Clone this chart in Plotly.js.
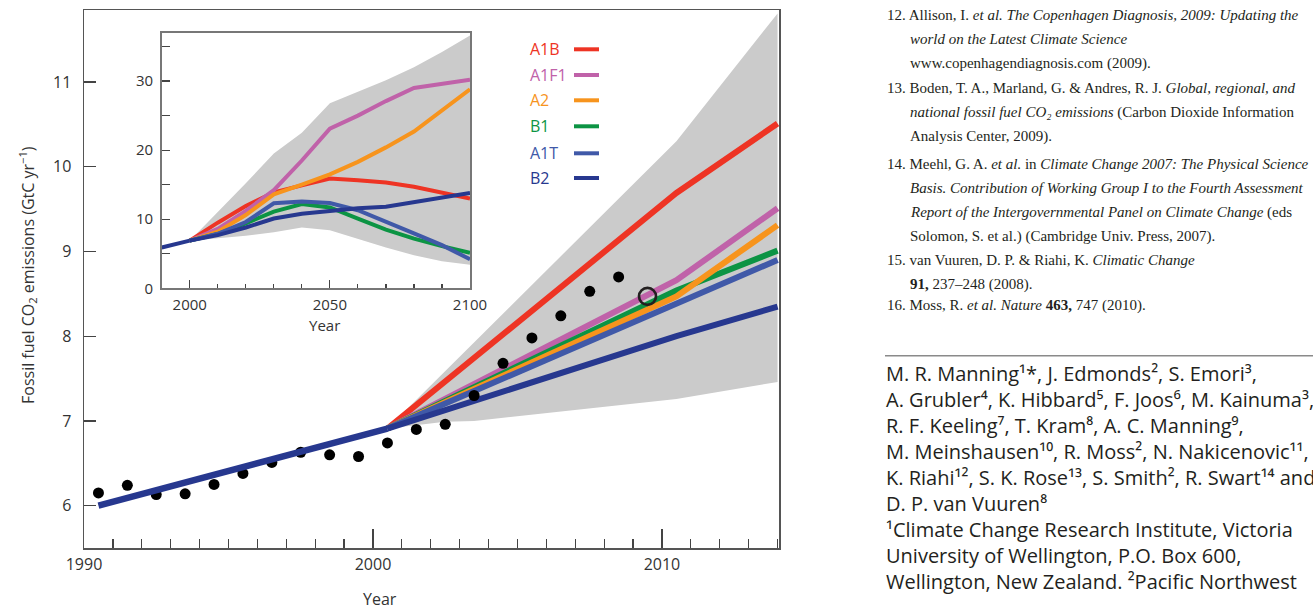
<!DOCTYPE html>
<html>
<head>
<meta charset="utf-8">
<script src="https://cdn.plot.ly/plotly-3.0.1.min.js"></script>
<style>
html,body{margin:0;padding:0;background:#fff;overflow:hidden;}
#chart{width:1313px;height:609px;}
</style>
</head>
<body>
<div id="chart"></div>
<script>
// ---------- main panel data ----------
const histYears = [1990.5, 2000.5];
const histValues = [6.0, 6.91];
const projYears = [2000.5, 2010.5, 2014];
const a1b  = [6.91, 9.69, 10.51];
const a1f1 = [6.91, 8.66, 9.51];
const a2   = [6.91, 8.47, 9.31];
const b1   = [6.91, 8.54, 9.01];
const a1t  = [6.91, 8.37, 8.90];
const b2   = [6.91, 8.00, 8.35];
const bandUpperYears = [2000.5, 2010.5, 2014];
const bandUpperValues = [6.91, 10.30, 11.81];
const bandLowerYears = [2000.5, 2002.5, 2003.5, 2007, 2010.5, 2014];
const bandLowerValues = [6.91, 6.99, 7.00, 7.13, 7.26, 7.46];
const obsYears = [1990.5,1991.5,1992.5,1993.5,1994.5,1995.5,1996.5,1997.5,1998.5,1999.5,2000.5,2001.5,2002.5,2003.5,2004.5,2005.5,2006.5,2007.5,2008.5];
const obsValues = [6.15,6.24,6.13,6.14,6.25,6.38,6.51,6.63,6.60,6.58,6.74,6.90,6.96,7.30,7.68,7.98,8.24,8.53,8.70];
const estYears = [2009.5];
const estValues = [8.47];

// ---------- inset data ----------
const insetHistYears = [1990, 2000];
const insetHistValues = [5.9, 6.9];
const insetYears = [2000,2010,2020,2030,2040,2050,2060,2070,2080,2090,2100];
const inA1B  = [6.9, 9.5, 11.9, 13.9, 14.9, 15.9, 15.65, 15.3, 14.7, 13.9, 13.0];
const inA1F1 = [6.9, 8.6, 11.2, 14.2, 18.5, 23.1, 25.0, 27.1, 29.0, 29.6, 30.2];
const inA2   = [6.9, 8.2, 10.6, 13.6, 15.0, 16.5, 18.3, 20.4, 22.7, 25.8, 28.8];
const inB1   = [6.9, 7.85, 9.4, 11.1, 12.2, 11.7, 10.1, 8.5, 7.2, 6.1, 5.15];
const inA1T  = [6.9, 7.9, 9.6, 12.3, 12.55, 12.35, 11.3, 9.7, 7.95, 6.25, 4.2];
const inB2   = [6.9, 7.7, 8.8, 10.1, 10.8, 11.15, 11.6, 11.8, 12.5, 13.2, 13.8];
const inUpper = [6.9, 11.0, 15.2, 19.5, 22.5, 26.8, 28.4, 30.1, 32.0, 34.2, 36.6];
const inLower = [6.9, 7.2, 7.6, 8.1, 8.8, 8.4, 7.2, 5.9, 4.8, 3.9, 3.4];

const scenarioNames = ['A1B','A1F1','A2','B1','A1T','B2'];
const colors = {A1B:'#ee3424', A1F1:'#c062a9', A2:'#f7941d', B1:'#0c9444', A1T:'#4059a8', B2:'#27388f'};

// pixel -> paper helpers (plot area: x 84..779, y 10..548)
const PX = v => (v - 84) / 695;
const PY = v => (548 - v) / 538;

const traces = [];
// main band
traces.push({
  x: bandUpperYears.concat(bandLowerYears.slice().reverse()),
  y: bandUpperValues.concat(bandLowerValues.slice().reverse()),
  fill: 'toself', fillcolor: '#cbcbcb', line: {width: 0}, mode: 'lines',
  hoverinfo: 'skip', xaxis: 'x', yaxis: 'y'
});
const mainSeries = {A1B:a1b, A1F1:a1f1, B1:b1, A2:a2, A1T:a1t, B2:b2};
['A1B','A1F1','B1','A2','A1T','B2'].forEach(n => {
  traces.push({x: projYears, y: mainSeries[n], mode: 'lines', name: n,
    line: {color: colors[n], width: 6}, xaxis: 'x', yaxis: 'y'});
});
traces.push({x: obsYears, y: obsValues, mode: 'markers',
  marker: {color: '#000', size: 11}, xaxis: 'x', yaxis: 'y'});
traces.push({x: histYears, y: histValues, mode: 'lines',
  line: {color: colors.B2, width: 6.5}, xaxis: 'x', yaxis: 'y'});
traces.push({x: estYears, y: estValues, mode: 'markers',
  marker: {symbol: 'circle-open', color: '#231f20', size: 17, line: {color: '#231f20', width: 2.7}}, xaxis: 'x', yaxis: 'y'});

// inset
traces.push({
  x: insetYears.concat(insetYears.slice().reverse()),
  y: inUpper.concat(inLower.slice().reverse()),
  fill: 'toself', fillcolor: '#cbcbcb', line: {width: 0}, mode: 'lines',
  hoverinfo: 'skip', xaxis: 'x2', yaxis: 'y2'
});
const inSeries = {A1B:inA1B, A1F1:inA1F1, A2:inA2, B1:inB1, A1T:inA1T, B2:inB2};
['A1B','A1F1','A2','B1','A1T','B2'].forEach(n => {
  traces.push({x: insetYears, y: inSeries[n], mode: 'lines',
    line: {color: colors[n], width: 4}, xaxis: 'x2', yaxis: 'y2'});
});
traces.push({x: insetHistYears, y: insetHistValues, mode: 'lines',
  line: {color: colors.B2, width: 4}, xaxis: 'x2', yaxis: 'y2'});

const tickFont = {family: 'Open Sans, sans-serif', size: 16, color: '#333'};
const annotations = [];
const shapes = [];

// axis titles
annotations.push({xref:'paper', yref:'paper', x: PX(27), y: PY(275), textangle: -90,
  text: 'Fossil fuel CO<sub>2</sub> emissions (GtC yr<sup>\u22121</sup>)', showarrow: false,
  font: {family: 'Open Sans, sans-serif', size: 16, color: '#333'}, xanchor: 'center', yanchor: 'middle'});
annotations.push({xref:'paper', yref:'paper', x: PX(380), y: PY(599), text: 'Year', showarrow: false,
  font: {family: 'Open Sans, sans-serif', size: 16, color: '#333'}, xanchor: 'center', yanchor: 'middle'});
annotations.push({xref:'paper', yref:'paper', x: PX(324), y: PY(325), text: 'Year', showarrow: false,
  font: {family: 'Open Sans, sans-serif', size: 15, color: '#333'}, xanchor: 'center', yanchor: 'middle'});

// legend (text then line sample)
const legendY = [49.3, 75, 100.3, 126.3, 153.3, 178];
scenarioNames.forEach((n, i) => {
  annotations.push({xref:'paper', yref:'paper', x: PX(528), y: PY(legendY[i]), text: n, showarrow: false,
    font: {family: 'Open Sans, sans-serif', size: 16, color: colors[n]}, xanchor: 'left', yanchor: 'middle'});
  shapes.push({type: 'line', xref: 'paper', yref: 'paper', x0: PX(574), x1: PX(599),
    y0: PY(legendY[i]), y1: PY(legendY[i]), line: {color: colors[n], width: 4}});
});

// reference list (right column)
const serif = {family: 'Liberation Serif, Times New Roman, serif', size: 15, color: '#231f20'};
const refLines = [
  [885, 15, '12. Allison, I. <i>et al. The Copenhagen Diagnosis, 2009: Updating the</i>'],
  [907.7, 39.3, '<i>world on the Latest Climate Science</i>'],
  [907.7, 63.3, 'www.copenhagendiagnosis.com (2009).'],
  [885, 88.3, '13. Boden, T. A., Marland, G. & Andres, R. J. <i>Global, regional, and</i>'],
  [907.7, 112.7, '<i>national fossil fuel CO\u2082 emissions</i> (Carbon Dioxide Information'],
  [907.7, 136.7, 'Analysis Center, 2009).'],
  [885, 164, '14. Meehl, G. A. <i>et al.</i> in <i>Climate Change 2007: The Physical Science</i>'],
  [907.7, 188.3, '<i>Basis. Contribution of Working Group I to the Fourth Assessment</i>'],
  [907.7, 212.7, '<i>Report of the Intergovernmental Panel on Climate Change</i> (eds'],
  [907.7, 236, 'Solomon, S. et al.) (Cambridge Univ. Press, 2007).'],
  [885, 260, '15. van Vuuren, D. P. & Riahi, K. <i>Climatic Change</i>'],
  [907.7, 284.5, '<b>91,</b> 237\u2013248 (2008).'],
  [885, 305, '16. Moss, R. <i>et al. Nature</i> <b>463,</b> 747 (2010).']
];
refLines.forEach(r => annotations.push({xref:'paper', yref:'paper', x: PX(r[0]), y: PY(r[1]), text: r[2],
  showarrow: false, font: serif, xanchor: 'left', yanchor: 'middle'}));

shapes.push({type: 'line', xref: 'paper', yref: 'paper', x0: PX(885), x1: PX(1320), y0: PY(355.7), y1: PY(355.7),
  line: {color: '#8a8a8a', width: 1.5}});

// author block as one multi-line text (Unicode superscript digits)
const authLines = [
  'M. R. Manning\u00b9*, J. Edmonds\u00b2, S. Emori\u00b3,',
  'A. Grubler\u2074, K. Hibbard\u2075, F. Joos\u2076, M. Kainuma\u00b3,',
  'R. F. Keeling\u2077, T. Kram\u2078, A. C. Manning\u2079,',
  'M. Meinshausen\u00b9\u2070, R. Moss\u00b2, N. Nakicenovic\u00b9\u00b9,',
  'K. Riahi\u00b9\u00b2, S. K. Rose\u00b9\u00b3, S. Smith\u00b2, R. Swart\u00b9\u2074 and',
  'D. P. van Vuuren\u2078',
  '\u00b9Climate Change Research Institute, Victoria',
  'University of Wellington, P.O. Box 600,',
  'Wellington, New Zealand. \u00b2Pacific Northwest'
];
annotations.push({xref:'paper', yref:'paper', x: PX(884), y: PY(477.5), text: authLines.join('<br>'),
  showarrow: false, align: 'left', font: {family: 'Open Sans, sans-serif', size: 20, color: '#231f20'},
  xanchor: 'left', yanchor: 'middle'});

const layout = {
  width: 1313, height: 609,
  margin: {l: 84, r: 534, t: 10, b: 61},
  paper_bgcolor: '#fff', plot_bgcolor: '#fff',
  showlegend: false,
  xaxis: {
    domain: [0, 1], range: [1990, 2014.05], tickmode: 'linear', tick0: 1990, dtick: 10,
    ticks: 'inside', ticklen: 19, tickwidth: 1.2, tickcolor: '#444',
    minor: {tickmode: 'linear', tick0: 1990, dtick: 1, ticks: 'inside', ticklen: 9, tickwidth: 1.2, tickcolor: '#444', showgrid: false},
    showline: true, linecolor: '#555', linewidth: 1.5, mirror: true,
    showgrid: false, zeroline: false, tickfont: tickFont, ticklabelstandoff: 1, fixedrange: true
  },
  yaxis: {
    domain: [0, 1], range: [5.5, 11.85], tickmode: 'linear', tick0: 6, dtick: 1,
    ticks: 'inside', ticklen: 12, tickwidth: 1.2, tickcolor: '#444',
    showline: true, linecolor: '#555', linewidth: 1.5, mirror: true,
    showgrid: false, zeroline: false, tickfont: tickFont, ticklabelstandoff: 8, fixedrange: true
  },
  xaxis2: {
    domain: [PX(161.7), PX(470)], anchor: 'y2', range: [1990, 2100], tickmode: 'linear', tick0: 2000, dtick: 50,
    ticks: 'inside', ticklen: 8, tickwidth: 1.2, tickcolor: '#444',
    minor: {tickmode: 'linear', tick0: 2000, dtick: 10, ticks: 'inside', ticklen: 4, tickwidth: 1.2, tickcolor: '#444', showgrid: false},
    showline: true, linecolor: '#777', linewidth: 1.5, mirror: true,
    showgrid: false, zeroline: false, tickfont: {family: 'Open Sans, sans-serif', size: 15, color: '#333'}, ticklabelstandoff: 2
  },
  yaxis2: {
    domain: [PY(288.3), PY(32.7)], anchor: 'x2', range: [0, 37], tickmode: 'linear', tick0: 0, dtick: 10,
    ticks: 'inside', ticklen: 8, tickwidth: 1.2, tickcolor: '#444',
    minor: {tickmode: 'linear', tick0: 0, dtick: 5, ticks: 'inside', ticklen: 8, tickwidth: 1.2, tickcolor: '#444', showgrid: false},
    showline: true, linecolor: '#777', linewidth: 1.5, mirror: true,
    showgrid: false, zeroline: false, tickfont: {family: 'Open Sans, sans-serif', size: 15, color: '#333'}, ticklabelstandoff: 4
  },
  annotations: annotations,
  shapes: shapes
};

Plotly.newPlot('chart', traces, layout, {displayModeBar: false, staticPlot: true});
</script>
</body>
</html>
